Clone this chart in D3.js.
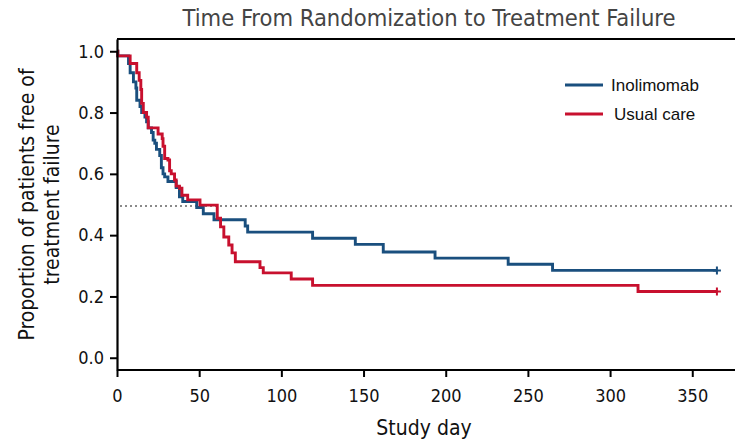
<!DOCTYPE html>
<html>
<head>
<meta charset="utf-8">
<script src="https://cdn.jsdelivr.net/npm/d3@7"></script>
<style>
  body { margin: 0; background: #fff; }
  svg text { font-family: "Liberation Sans Narrow", "DejaVu Sans Condensed", "Roboto", sans-serif; }
</style>
</head>
<body>
<div class="chart"></div>
<script>
// Kaplan-Meier steps (day, proportion free of failure)
const inolimomabDays = [0, 0.5, 7, 8, 10, 11.5, 12, 14, 15, 17, 18, 19, 21, 22, 23, 24, 26, 27, 28, 29, 31, 36, 38, 40, 48.5, 52.5, 59, 78, 79.5, 119, 145, 162, 193.5, 238, 265, 365];
const inolimomabSurv = [1.0, 0.985, 0.96, 0.93, 0.90, 0.88, 0.84, 0.82, 0.80, 0.785, 0.77, 0.75, 0.735, 0.71, 0.70, 0.68, 0.66, 0.62, 0.60, 0.59, 0.575, 0.555, 0.525, 0.51, 0.49, 0.47, 0.45, 0.43, 0.41, 0.39, 0.37, 0.345, 0.325, 0.305, 0.285, 0.285];

const usualCareDays = [0, 0.5, 8, 12, 13.5, 14.5, 15, 16, 18, 19, 25, 27.5, 28, 29, 31, 32, 33, 35, 36, 38, 39.5, 43, 50.5, 61, 63, 65, 68, 70, 72, 87, 89, 106, 119, 317, 365];
const usualCareSurv = [1.0, 0.985, 0.96, 0.93, 0.905, 0.875, 0.83, 0.80, 0.785, 0.75, 0.73, 0.715, 0.69, 0.65, 0.645, 0.61, 0.60, 0.58, 0.56, 0.553, 0.53, 0.515, 0.498, 0.455, 0.427, 0.394, 0.368, 0.342, 0.313, 0.294, 0.277, 0.257, 0.236, 0.216, 0.216];

const seriesNames = ['Inolimomab', 'Usual care'];
const seriesColors = ['#1a4f7e', '#c8102e'];
const xTicks = [0, 50, 100, 150, 200, 250, 300, 350];
const yTicks = [0.0, 0.2, 0.4, 0.6, 0.8, 1.0];
const medianLine = 0.495;

const width = 735, height = 444;
const margin = { top: 39, right: 0, bottom: 74, left: 117 };

const svg = d3.select('.chart').append('svg')
    .attr('width', width)
    .attr('height', height);

/* Scales */
const x = d3.scaleLinear().domain([0, 376]).range([margin.left, width - margin.right]);
const y = d3.scaleLinear().domain([-0.04, 1.04]).range([height - margin.bottom, margin.top]);

/* frame top line */
svg.append('line')
    .attr('x1', margin.left).attr('x2', width + 5)
    .attr('y1', margin.top).attr('y2', margin.top)
    .attr('stroke', '#000').attr('stroke-width', 2.2);

/* dotted median line */
svg.append('line')
    .attr('x1', x(0) + 3).attr('x2', width)
    .attr('y1', y(medianLine)).attr('y2', y(medianLine))
    .attr('stroke', '#8a8a8a')
    .attr('stroke-width', 2)
    .attr('stroke-dasharray', '2,3');

/* curves */
const series = [
    { name: seriesNames[0], color: seriesColors[0], values: inolimomabDays.map((d, i) => ({ day: d, s: inolimomabSurv[i] })) },
    { name: seriesNames[1], color: seriesColors[1], values: usualCareDays.map((d, i) => ({ day: d, s: usualCareSurv[i] })) }
];

const line = d3.line()
    .x(d => x(d.day))
    .y(d => y(d.s))
    .curve(d3.curveStepAfter);

const lines = svg.append('g').attr('class', 'lines');
lines.selectAll('path')
    .data(series).enter()
    .append('path')
    .attr('d', d => line(d.values))
    .attr('fill', 'none')
    .attr('stroke', d => d.color)
    .attr('stroke-width', 2.9);

/* censor marks at the end */
lines.selectAll('.censor')
    .data(series).enter()
    .append('path')
    .attr('class', 'censor')
    .attr('d', d => {
        const last = d.values[d.values.length - 1];
        const cx = x(last.day), cy = y(last.s);
        return `M${cx - 4},${cy}H${cx + 4}M${cx},${cy - 4}V${cy + 4}`;
    })
    .attr('stroke', d => d.color)
    .attr('stroke-width', 2);

/* Axes */
const xAxis = d3.axisBottom(x).tickValues(xTicks).tickSize(7).tickSizeOuter(0).tickPadding(12).tickFormat(d3.format('d'));
const yAxis = d3.axisLeft(y).tickValues(yTicks).tickSize(7).tickSizeOuter(0).tickPadding(6).tickFormat(d3.format('.1f'));

const gx = svg.append('g')
    .attr('transform', `translate(0, ${height - margin.bottom})`)
    .call(xAxis);
const gy = svg.append('g')
    .attr('transform', `translate(${margin.left}, 0)`)
    .call(yAxis);

[gx, gy].forEach(g => {
    g.select('.domain').attr('stroke', '#000').attr('stroke-width', 2.2);
    g.selectAll('.tick line').attr('stroke', '#000').attr('stroke-width', 2);
    g.selectAll('.tick text')
        .attr('fill', '#111')
        .style('font-size', '18px')
        .style('font-family', '"Liberation Sans Narrow", "DejaVu Sans Condensed", sans-serif');
});
gx.select('.domain').attr('d', `M${x(0)},0H${width + 5}`);

/* Titles */
svg.append('text')
    .attr('x', 429).attr('y', 26)
    .attr('text-anchor', 'middle')
    .attr('fill', '#444')
    .style('font-size', '23.5px')
    .text('Time From Randomization to Treatment Failure');

svg.append('text')
    .attr('x', 424).attr('y', 435)
    .attr('text-anchor', 'middle')
    .attr('fill', '#111')
    .style('font-size', '21px')
    .text('Study day');

const yLabel = svg.append('text')
    .attr('transform', `translate(34, ${(margin.top + height - margin.bottom) / 2}) rotate(-90)`)
    .attr('text-anchor', 'middle')
    .attr('fill', '#111')
    .style('font-size', '21px');
yLabel.append('tspan').attr('x', 0).attr('dy', 0).text('Proportion of patients free of');
yLabel.append('tspan').attr('x', 0).attr('dy', 25).text('treatment failure');

/* Legend */
const legend = svg.append('g').attr('class', 'legend');
const legendItems = legend.selectAll('g')
    .data(series).enter()
    .append('g')
    .attr('transform', (d, i) => `translate(565, ${85 + i * 29})`);
legendItems.append('line')
    .attr('x1', 0).attr('x2', 38)
    .attr('stroke', d => d.color)
    .attr('stroke-width', 2.9);
legendItems.append('text')
    .attr('x', (d, i) => i === 0 ? 46 : 49)
    .attr('y', 6)
    .attr('fill', '#111')
    .style('font-size', '17px')
    .style('font-family', '"Liberation Sans", Arial, sans-serif')
    .text(d => d.name);
</script>
</body>
</html>
